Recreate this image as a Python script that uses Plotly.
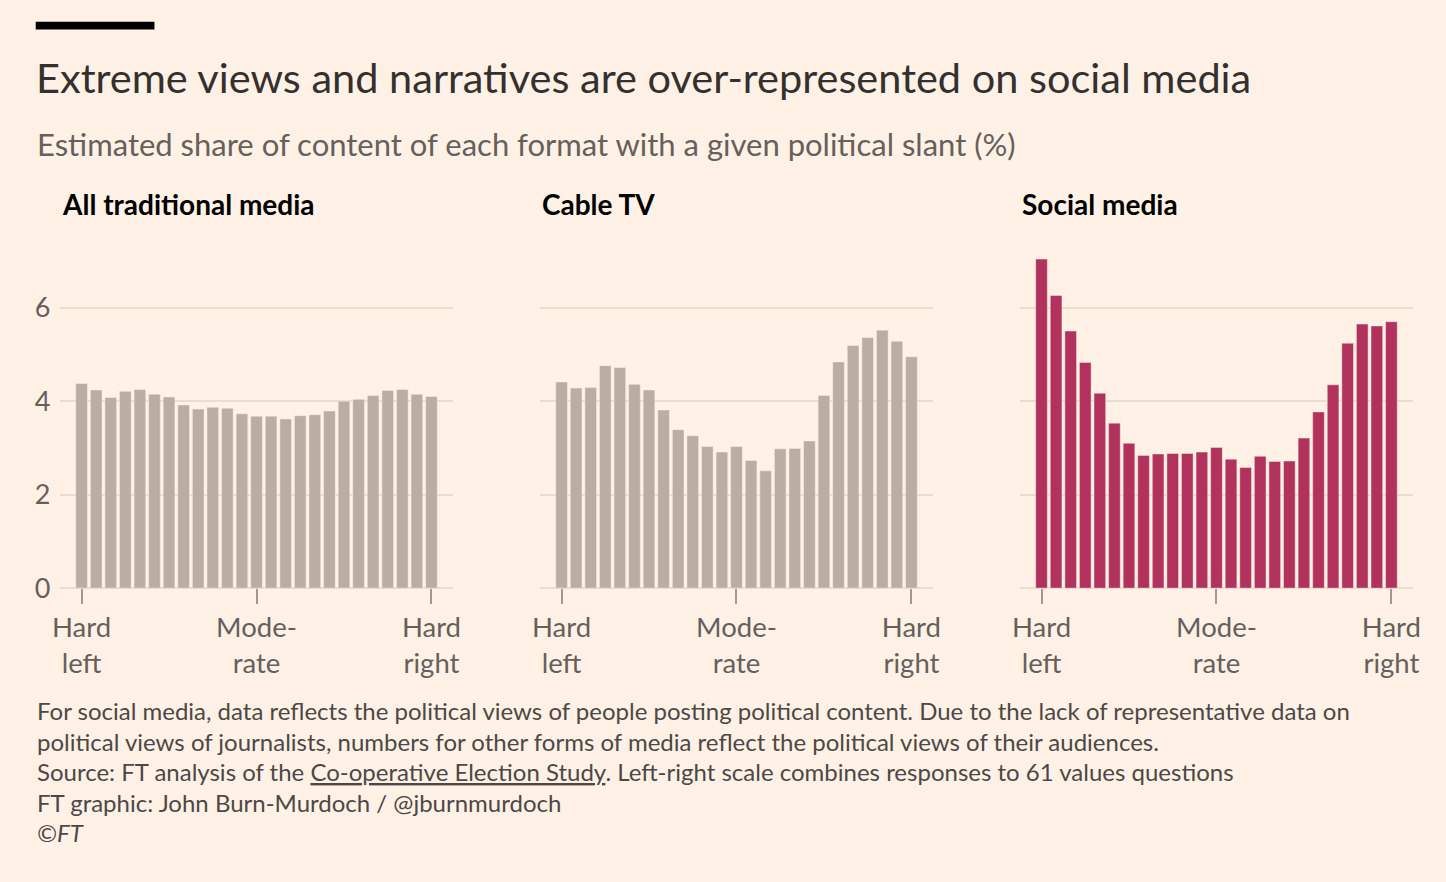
import plotly.graph_objects as go

# political slant positions (hard left -> hard right), 25 bins
slant = [0, 1, 2, 3, 4, 5, 6, 7, 8, 9, 10, 11, 12, 13, 14, 15, 16, 17, 18, 19, 20, 21, 22, 23, 24]

traditional = [4.38, 4.24, 4.08, 4.21, 4.25, 4.15, 4.09, 3.92, 3.83, 3.87, 3.85, 3.73, 3.68,
               3.68, 3.62, 3.69, 3.71, 3.79, 4.00, 4.04, 4.12, 4.23, 4.25, 4.15, 4.10]
cable_tv = [4.41, 4.28, 4.29, 4.76, 4.72, 4.36, 4.24, 3.81, 3.39, 3.26, 3.03, 2.91, 3.03,
            2.73, 2.51, 2.98, 2.99, 3.15, 4.12, 4.84, 5.19, 5.36, 5.52, 5.28, 4.95]
social = [7.04, 6.26, 5.50, 4.83, 4.17, 3.53, 3.10, 2.84, 2.87, 2.88, 2.88, 2.91, 3.01,
          2.76, 2.58, 2.82, 2.71, 2.72, 3.21, 3.77, 4.35, 5.24, 5.65, 5.61, 5.70]

panel_titles = ["All traditional media", "Cable TV", "Social media"]
tick_vals = [0, 12, 24]
tick_text = ["Hard<br>left", "Mode-<br>rate", "Hard<br>right"]
y_ticks = [0, 2, 4, 6]

BG = "#FFF1E5"
GREY = "#BAAEA4"
CLARET = "#B1325C"
GRID = "#E9DDD0"
TEXT = "#66605C"
FONT = "Lato"
W, H = 1446, 882

def px(v):
    return v / W

def py(v):
    return (H - v) / H

fig = go.Figure()

series = [traditional, cable_tv, social]
colors = [GREY, GREY, CLARET]
lefts = [53, 538, 1023]
plot_w = 397

for i in range(3):
    n = "" if i == 0 else str(i + 1)
    fig.add_trace(go.Bar(
        x=slant, y=series[i], xaxis="x" + n, yaxis="y" + n,
        marker=dict(color=colors[i], line=dict(color="rgba(255,241,229,0.45)", width=1)),
        showlegend=False, hoverinfo="y",
    ))
    fig.layout["xaxis" + n] = dict(
        domain=[px(lefts[i]), px(lefts[i] + plot_w)], range=[-1.45, 25.5],
        tickvals=tick_vals, ticktext=tick_text, ticks="outside", ticklen=15,
        tickwidth=2, tickcolor="#A29890", showgrid=False, zeroline=False,
        showline=False, tickfont=dict(size=27.5, color=TEXT, family=FONT),
        anchor="y" + n, fixedrange=True,
    )
    fig.layout["yaxis" + n] = dict(
        domain=[py(598.3), py(251.2)], range=[0, 7.3],
        tickvals=y_ticks, showticklabels=(i == 0), showgrid=True,
        gridcolor=GRID, gridwidth=2, zeroline=True, zerolinecolor=GRID,
        zerolinewidth=2, showline=False, ticks="", ticklabelstandoff=9,
        tickfont=dict(size=27, color=TEXT, family=FONT),
        anchor="x" + n, fixedrange=True,
    )
    fig.add_annotation(text="<b>" + panel_titles[i] + "</b>", x=px(lefts[i]), y=py(208),
                       xref="paper", yref="paper", xanchor="left", yanchor="middle",
                       showarrow=False, font=dict(size=28, color="#000000", family=FONT))

fig.add_shape(type="rect", xref="paper", yref="paper", x0=px(28), x1=px(148),
              y0=py(30), y1=py(22), fillcolor="#000000", line=dict(width=0))

fig.add_annotation(text="Extreme views and narratives are over-represented on social media",
                   x=px(26), y=py(78), xref="paper", yref="paper", xanchor="left",
                   yanchor="middle", showarrow=False,
                   font=dict(size=41.5, color="#33302E", family=FONT))
fig.add_annotation(text="Estimated share of content of each format with a given political slant (%)",
                   x=px(27), y=py(147), xref="paper", yref="paper", xanchor="left",
                   yanchor="middle", showarrow=False,
                   font=dict(size=31, color=TEXT, family=FONT))

footer = [
    "For social media, data reflects the political views of people posting political content. Due to the lack of representative data on",
    "political views of journalists, numbers for other forms of media reflect the political views of their audiences.",
    "Source: FT analysis of the <u>Co-operative Election Study</u>. Left-right scale combines responses to 61 values questions",
    "FT graphic: John Burn-Murdoch / @jburnmurdoch",
    "<i>©FT</i>",
]
for k, line in enumerate(footer):
    fig.add_annotation(text=line, x=px(27), y=py(723 + 31 * k), xref="paper", yref="paper",
                       xanchor="left", yanchor="middle", showarrow=False,
                       font=dict(size=24, color="#4D4845", family=FONT))

fig.update_layout(
    width=W, height=H, margin=dict(l=0, r=0, t=0, b=0),
    paper_bgcolor=BG, plot_bgcolor=BG, bargap=0.2,
    font=dict(family=FONT, color=TEXT),
)

# no page margin so the 1446x882 figure fills the window exactly
fig.write_html("out.html", config={"displayModeBar": False},
               post_script="document.body.style.margin='0';document.body.style.overflow='hidden';")
